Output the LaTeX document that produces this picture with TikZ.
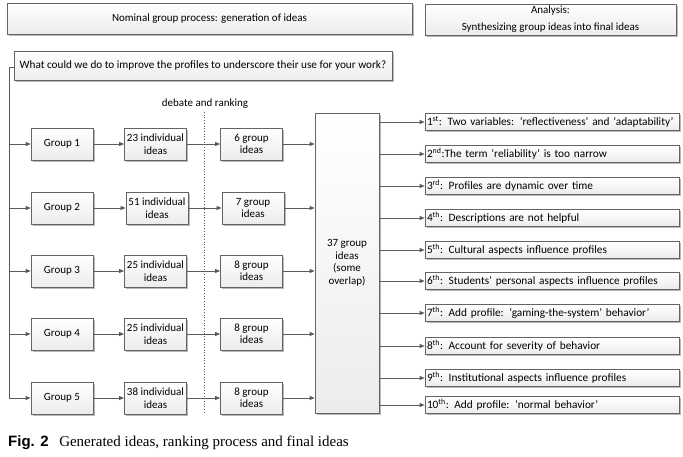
\documentclass[tikz,border=0pt]{standalone}
\usepackage{fontspec}
\setmainfont{Carlito}
\newfontfamily\capserif{Liberation Serif}
\newfontfamily\capsans{Liberation Sans}
\usetikzlibrary{arrows.meta,shadows}
\definecolor{boxline}{RGB}{100,100,100}
\definecolor{boxfill}{RGB}{236,236,236}
\definecolor{linegray}{RGB}{90,90,90}

\tikzset{
  box/.style={draw=boxline, line width=0.8pt, top color=white, bottom color=boxfill,
    drop shadow={shadow xshift=1.5pt, shadow yshift=-1.5pt, fill=gray!70, opacity=0.8},
    align=center, inner sep=1pt, font=\fontsize{11}{12.5}\selectfont},
  grp/.style={box, minimum width=62pt, minimum height=32pt},
  idea/.style={box, minimum width=254pt, minimum height=17pt, text width=250pt, align=left,
    font=\fontsize{11.3}{12}\selectfont},
  conn/.style={linegray, line width=0.8pt, -{Triangle[length=5pt,width=4pt]}}
}

\begin{document}
\begin{tikzpicture}[x=1pt,y=-1pt]
  \useasboundingbox (0,0) rectangle (683,456);

  % headers
  \node[box, minimum width=405pt, minimum height=31pt] (head1) at (209.5,18.5) {Nominal group process: generation of ideas};
  \node[box, minimum width=251pt, minimum height=31pt, font=\fontsize{11}{17}\selectfont] (head2) at (550.5,19.5) {Analysis:\\Synthesizing group ideas into final ideas};
  \node[box, minimum width=378pt, minimum height=29pt, font=\fontsize{11.2}{12.5}\selectfont] (quest) at (203,65.5) {What could we do to improve the profiles to underscore their use for your work?};

  % groups
  \node[grp] (g1) at (62,144) {Group 1};
  \node[grp] (g2) at (62,208) {Group 2};
  \node[grp] (g3) at (62,271) {Group 3};
  \node[grp] (g4) at (62,334) {Group 4};
  \node[grp] (g5) at (62,398) {Group 5};

  % individual ideas
  \node[grp] (i1) at (155.5,144) {23 individual\\ideas};
  \node[grp] (i2) at (157,208) {51 individual\\ideas};
  \node[grp] (i3) at (155.5,271) {25 individual\\ideas};
  \node[grp] (i4) at (155.5,334) {25 individual\\ideas};
  \node[grp] (i5) at (155.5,398) {38 individual\\ideas};

  % group ideas
  \node[grp] (r1) at (251.5,144) {6 group\\ideas};
  \node[grp] (r2) at (253,208) {7 group\\ideas};
  \node[grp] (r3) at (251.5,271) {8 group\\ideas};
  \node[grp] (r4) at (251.5,334) {8 group\\ideas};
  \node[grp] (r5) at (251.5,398) {8 group\\ideas};

  % debate and ranking
  \node[font=\fontsize{11}{12}\selectfont] (debate) at (205,104) {debate and ranking};
  \coordinate (dtop) at (204,112);
  \coordinate (dbot) at (204,412);
  \draw[linegray, dotted, line width=0.7pt] (dtop) -- (dbot);

  % synthesis
  \node[box, minimum width=64pt, minimum height=300pt] (all) at (347,263) {37 group\\ideas\\(some\\overlap)};

  % final ideas
  \node[idea] (f1) at (552,122) {1\textsuperscript{st}: Two variables: ‘reflectiveness’ and ‘adaptability’};
  \node[idea] (f2) at (552,154) {2\textsuperscript{nd}:The term ‘reliability’ is too narrow};
  \node[idea] (f3) at (552,186) {3\textsuperscript{rd}: Profiles are dynamic over time};
  \node[idea] (f4) at (552,218) {4\textsuperscript{th}: Descriptions are not helpful};
  \node[idea] (f5) at (552,250) {5\textsuperscript{th}: Cultural aspects influence profiles};
  \node[idea] (f6) at (552,281) {6\textsuperscript{th}: Students’ personal aspects influence profiles};
  \node[idea] (f7) at (552,313) {7\textsuperscript{th}: Add profile: ‘gaming-the-system’ behavior’};
  \node[idea] (f8) at (552,346) {8\textsuperscript{th}: Account for severity of behavior};
  \node[idea] (f9) at (552,378) {9\textsuperscript{th}: Institutional aspects influence profiles};
  \node[idea] (f10) at (552,405) {10\textsuperscript{th}: Add profile: ‘normal behavior’};

  % trunk
  \coordinate (trunk) at (9,67);
  \draw[conn] (quest.west |- trunk) -- (trunk) |- (g5.west);
  \foreach \n in {1,2,3,4} {
    \draw[conn] (trunk |- g\n.west) -- (g\n.west);
  }

  % rows
  \foreach \n in {1,...,5} {
    \draw[conn] (g\n) -- (i\n);
    \draw[conn] (i\n) -- (r\n);
    \draw[conn] (r\n.east) -- (all.west |- r\n.east);
  }
  \foreach \n in {1,...,10} {
    \draw[conn] (all.east |- f\n.west) -- (f\n.west);
  }

  % caption
  \node[anchor=base west, inner sep=0pt, font=\fontsize{15}{17}\selectfont] (cap) at (8,446)
    {{\capsans\bfseries Fig. 2}\hspace{0.7em}{\capserif Generated ideas, ranking process and final ideas}};
\end{tikzpicture}
\end{document}
